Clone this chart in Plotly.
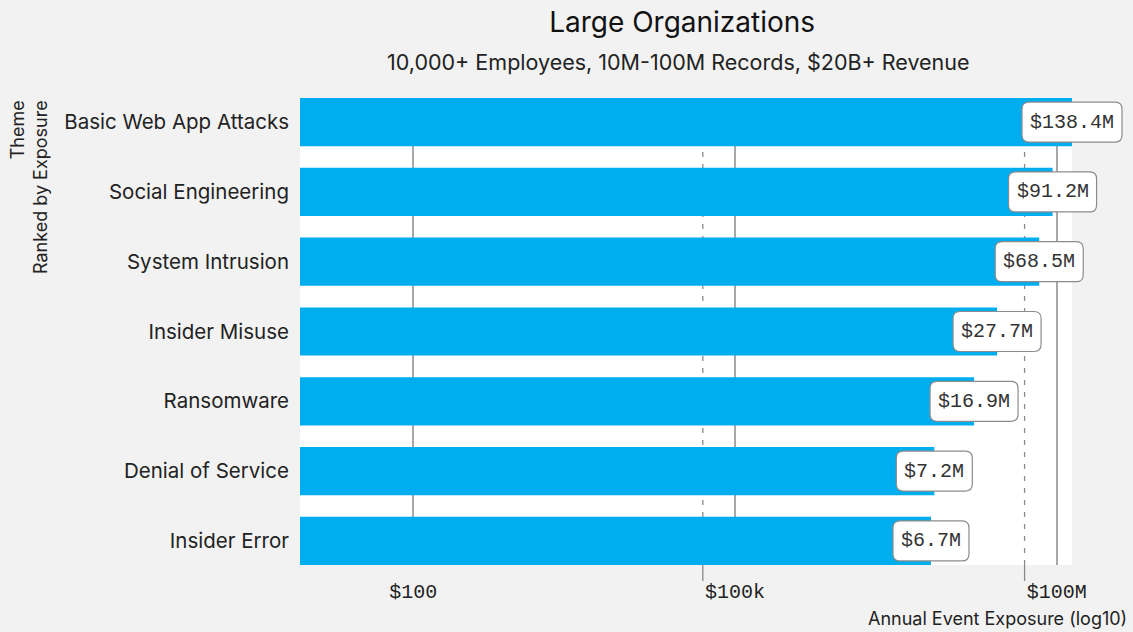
import math
import plotly.graph_objects as go

# Annual event exposure by theme, large organizations (USD millions)
themes = [
    "Basic Web App Attacks",
    "Social Engineering",
    "System Intrusion",
    "Insider Misuse",
    "Ransomware",
    "Denial of Service",
    "Insider Error",
]
exposure_musd = [138.4, 91.2, 68.5, 27.7, 16.9, 7.2, 6.7]

tick_vals = [1e2, 1e5, 1e8]
tick_text = ["$100", "$100k", "$100M"]
marker_vals = [5e4, 5e7]

exposure = [v * 1e6 for v in exposure_musd]
labels = [f"${v}M" for v in exposure_musd]

SANS = "Inter, 'Open Sans', sans-serif"
MONO = "'Liberation Mono', 'DejaVu Sans Mono', monospace"

X_RANGE = [0.943, math.log10(138.4e6)]

fig = go.Figure(
    go.Bar(
        x=exposure,
        y=themes,
        orientation="h",
        marker=dict(color="#00adef", line=dict(width=0)),
        width=0.69,
        hoverinfo="skip",
    )
)


def rounded_box(half_w, half_h, r):
    return (
        f"M {-half_w + r},{-half_h} L {half_w - r},{-half_h} "
        f"Q {half_w},{-half_h} {half_w},{-half_h + r} "
        f"L {half_w},{half_h - r} Q {half_w},{half_h} {half_w - r},{half_h} "
        f"L {-half_w + r},{half_h} Q {-half_w},{half_h} {-half_w},{half_h - r} "
        f"L {-half_w},{-half_h + r} Q {-half_w},{-half_h} {-half_w + r},{-half_h} Z"
    )


def x_fraction(v):
    # position of a value along the log x axis as a fraction of the plot width
    return (math.log10(v) - X_RANGE[0]) / (X_RANGE[1] - X_RANGE[0])


shapes = []
annotations = []

# dashed reference lines with a short tick below the plot
for mv in marker_vals:
    shapes.append(dict(type="line", xref="x", yref="paper", x0=mv, x1=mv, y0=0, y1=1,
                       line=dict(color="#8a8a8a", width=1.3, dash="5px,7px"), layer="below"))
    shapes.append(dict(type="line", xref="x", yref="paper", x0=mv, x1=mv, y0=0, y1=-0.034,
                       line=dict(color="#8a8a8a", width=1.3), layer="below"))

# value callouts centred on each bar end
for i, (v, lab) in enumerate(zip(exposure, labels)):
    half_w = (12 * len(lab) + 16) / 2
    shapes.append(dict(
        type="path", xref="paper", yref="y",
        xsizemode="pixel", ysizemode="pixel",
        xanchor=x_fraction(v), yanchor=i,
        path=rounded_box(half_w, 20, 7),
        fillcolor="white", line=dict(color="#8c8c8c", width=1.2), layer="above",
    ))
    annotations.append(dict(
        x=math.log10(v), y=i, xref="x", yref="y", text=lab, showarrow=False,
        font=dict(family=MONO, size=20, color="#333333"),
        xanchor="center", yanchor="middle",
    ))

annotations.append(dict(
    x=-0.351, y=1.0, xref="paper", yref="paper", xanchor="center", yanchor="top",
    text="Theme<br>Ranked by Exposure", textangle=-90, align="right", showarrow=False,
    font=dict(family=SANS, size=18, color="#222222"),
))
annotations.append(dict(
    x=1.0, y=0, xref="paper", yref="paper", xshift=57, yshift=-53,
    xanchor="right", yanchor="middle", text="Annual Event Exposure (log10)",
    showarrow=False, font=dict(family=SANS, size=18, color="#222222"),
))
annotations.append(dict(
    x=0.49, y=1, xref="paper", yref="paper", yshift=36, xanchor="center", yanchor="middle",
    text="10,000+ Employees, 10M-100M Records, $20B+ Revenue", showarrow=False,
    font=dict(family=SANS, size=21.5, color="#222222"),
))

fig.update_layout(
    width=1133, height=632,
    margin=dict(l=300, r=61, t=98, b=67),
    paper_bgcolor="#f2f2f2", plot_bgcolor="white",
    title=dict(text="Large Organizations", x=0.495, xref="paper", xanchor="center",
               y=0.965, yref="container", yanchor="middle",
               font=dict(family=SANS, size=28, color="#111111")),
    showlegend=False, bargap=0.31,
    shapes=shapes, annotations=annotations,
    xaxis=dict(
        type="log", range=X_RANGE,
        tickvals=tick_vals, ticktext=tick_text, ticks="",
        showgrid=True, gridcolor="#a8a8a8", gridwidth=1.5,
        zeroline=False, showline=False,
        tickfont=dict(family=MONO, size=20, color="#222222"),
        ticklabelstandoff=12,
    ),
    yaxis=dict(
        autorange=False, range=[6.345, -0.345], type="category",
        categoryorder="array", categoryarray=themes,
        showgrid=False, zeroline=False, showline=False, ticks="",
        ticklabelstandoff=10,
        tickfont=dict(family=SANS, size=20.5, color="#222222"),
    ),
)

fig.write_html("out.html")
